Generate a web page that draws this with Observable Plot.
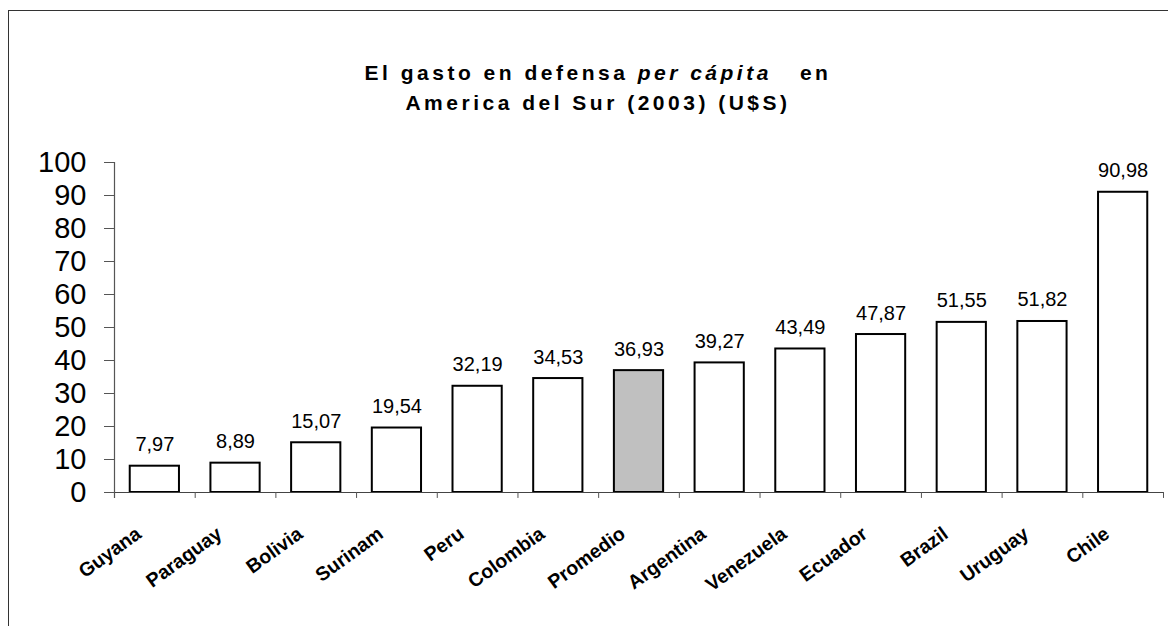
<!DOCTYPE html>
<html><head><meta charset="utf-8">
<script src="https://cdn.jsdelivr.net/npm/d3@7"></script>
<script src="https://cdn.jsdelivr.net/npm/@observablehq/plot@0.6"></script>
<style>
body{margin:0;background:#fff;}
#wrap{position:relative;width:1168px;height:626px;overflow:hidden;font-family:"Liberation Sans",Arial,sans-serif;}
#frame{position:absolute;left:8px;top:10px;width:1200px;height:700px;border-left:1.5px solid #333;border-top:1.5px solid #333;}
#chart{position:absolute;left:0;top:0;}
#title{position:absolute;left:14px;top:58px;width:1168px;text-align:center;font-weight:bold;font-size:21px;line-height:30px;letter-spacing:3.5px;white-space:pre;color:#000;}
g[aria-label="x-axis tick label"] text{font-weight:bold;}
</style></head><body>
<div id="wrap"><div id="frame"></div><div id="chart"></div><div id="title">El gasto en defensa <i>per cápita</i>   en<br>America del Sur (2003) (U$S)</div></div>
<script>
const countries = ["Guyana","Paraguay","Bolivia","Surinam","Peru","Colombia","Promedio","Argentina","Venezuela","Ecuador","Brazil","Uruguay","Chile"];
const values = [7.97, 8.89, 15.07, 19.54, 32.19, 34.53, 36.93, 39.27, 43.49, 47.87, 51.55, 51.82, 90.98];
const fills = ["#fff","#fff","#fff","#fff","#fff","#fff","#c0c0c0","#fff","#fff","#fff","#fff","#fff","#fff"];
const yTicks = [0,10,20,30,40,50,60,70,80,90,100];

const data = countries.map((c,i)=>({country:c, value:values[i], fill:fills[i], label:values[i].toFixed(2).replace(".", ",")}));
const W = 1168, ML = 114, MR = 5;
const step = (W - ML - MR) / countries.length;

const chart = Plot.plot({
  width: W, height: 626,
  marginTop: 162, marginBottom: 134, marginLeft: ML, marginRight: MR,
  style: {fontFamily: "Liberation Sans, Arial, sans-serif", background: "transparent", color: "#000", overflow: "visible"},
  x: {type: "band", domain: countries, paddingInner: 0.39, paddingOuter: 0.195, round: false},
  y: {domain: [0, 100]},
  color: {type: "identity"},
  marks: [
    Plot.barY(data, {x: "country", y: "value", fill: "fill", stroke: "#000", strokeWidth: 2}),
    Plot.text(data, {x: "country", y: "value", text: "label", dy: -15, lineAnchor: "bottom", fontSize: 20, fill: "#000"}),
    Plot.ruleY([0], {stroke: "#444", strokeWidth: 1.2}),
    Plot.ruleX([countries[0]], {x: d => d, y1: -1.8, y2: 100, dx: -step / 2, stroke: "#555", strokeWidth: 1.2}),
    Plot.ruleX(countries.slice(1), {x: d => d, y1: 0, y2: -1.8, dx: -step / 2, stroke: "#555", strokeWidth: 1}),
    Plot.ruleX([countries[countries.length - 1]], {x: d => d, y1: 0, y2: -1.8, dx: step / 2, stroke: "#555", strokeWidth: 1}),
    Plot.axisY({ticks: yTicks, tickSize: 10, tickPadding: 18, fontSize: 29, tickFormat: d => String(d), stroke: "#555", fill: "#000", label: null}),
    Plot.axisX({tickSize: 0, tickPadding: 39, tickRotate: -36, fontSize: 19.5, fontWeight: "bold", dx: -16, fill: "#000", label: null})
  ]
});
document.getElementById("chart").appendChild(chart);
</script>
</body></html>
